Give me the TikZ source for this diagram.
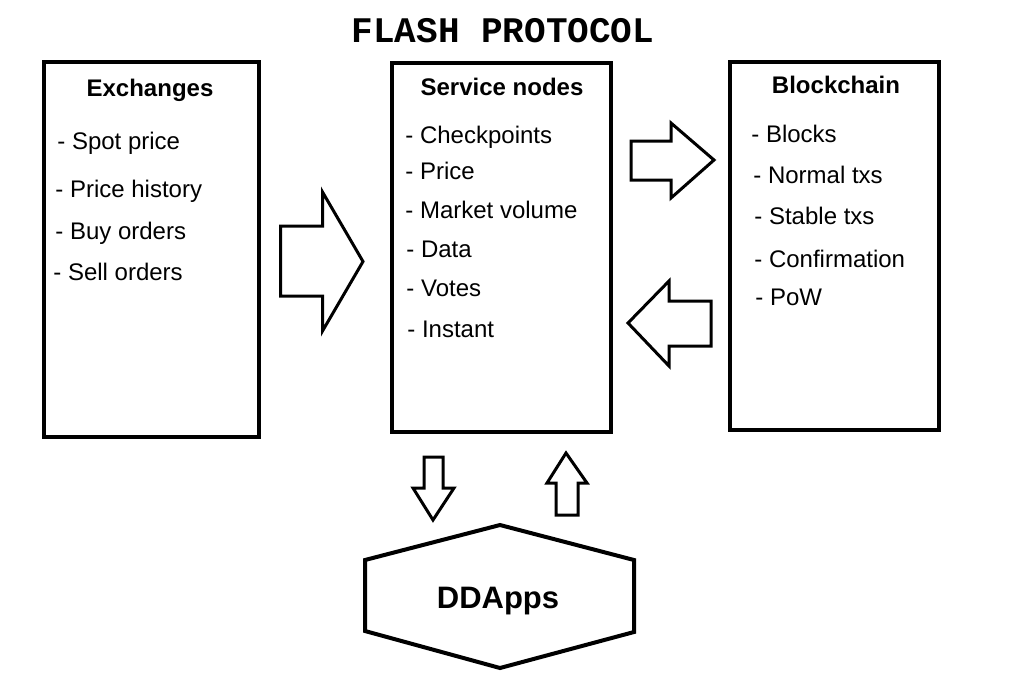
\documentclass[tikz,border=0pt]{standalone}
\usepackage{fontspec}
\setmainfont{Liberation Sans}
\newfontfamily\titlefont{Liberation Mono}
\usetikzlibrary{positioning}
\tikzset{
panel/.style={draw,line width=2pt,inner sep=0pt},
head/.style={anchor=base,inner sep=0pt,font=\bfseries\fontsize{12}{14}\selectfont},
item/.style={anchor=base west,inner sep=0pt,font=\fontsize{12}{14}\selectfont},
fatarrow/.style={draw,line width=1.5pt,line join=miter},
}

\begin{document}
\begin{tikzpicture}[x=.5pt,y=-.5pt]
\useasboundingbox (0,0) rectangle (1032,692);
\node[anchor=base,inner sep=0pt,font=\titlefont\bfseries\fontsize{18}{20}\selectfont] (title) at (503,42) {FLASH PROTOCOL};

\node[panel,minimum width=107.5pt,minimum height=187.75pt] (exch) at (151.5,249.25) {};
\node[panel,minimum width=109.5pt,minimum height=184.5pt] (serv) at (501.5,247.5) {};
\node[panel,minimum width=104.5pt,minimum height=184pt] (chain) at (834.5,246) {};

\node[head] (exchhead) at (150,96) {Exchanges};
\node[item] (e1) at (57,149) {- Spot price};
\node[item] (e2) at (55,197) {- Price history};
\node[item] (e3) at (55,239) {- Buy orders};
\node[item] (e4) at (53,280) {- Sell orders};

\node[head] (servhead) at (502,95) {Service nodes};
\node[item] (s1) at (405,143) {- Checkpoints};
\node[item] (s2) at (405,179) {- Price};
\node[item] (s3) at (405,218) {- Market volume};
\node[item] (s4) at (406,257) {- Data};
\node[item] (s5) at (406,296) {- Votes};
\node[item] (s6) at (407,337) {- Instant};

\node[head] (chainhead) at (836,93) {Blockchain};
\node[item] (c1) at (751,142) {- Blocks};
\node[item] (c2) at (753,183) {- Normal txs};
\node[item] (c3) at (754,224) {- Stable txs};
\node[item] (c4) at (754,267) {- Confirmation};
\node[item] (c5) at (755,305) {- PoW};

\draw[fatarrow] (280.5,226) -- (322.5,226) -- (322.5,192) -- (363,261.5) -- (322.5,331) -- (322.5,296) -- (280.5,296) -- cycle;
\draw[fatarrow] (631,141) -- (671,141) -- (671,123) -- (714,160) -- (671,198) -- (671,180) -- (631,180) -- cycle;
\draw[fatarrow] (711,301) -- (669,301) -- (669,281) -- (628,323) -- (669,366) -- (669,346) -- (711,346) -- cycle;
\draw[fatarrow] (424,457) -- (443,457) -- (443,488) -- (454,488) -- (433,520) -- (413,488) -- (424,488) -- cycle;
\draw[fatarrow] (556,515) -- (578,515) -- (578,483) -- (587,483) -- (566,453) -- (547,483) -- (556,483) -- cycle;

\draw[line width=2pt,line join=miter] (500,525) -- (634,560) -- (634,632) -- (500,668) -- (365,631) -- (365,560) -- cycle;
\node[inner sep=0pt,font=\bfseries\fontsize{15.5}{18}\selectfont] (dd) at (498,601) {DDApps};
\end{tikzpicture}
\end{document}
